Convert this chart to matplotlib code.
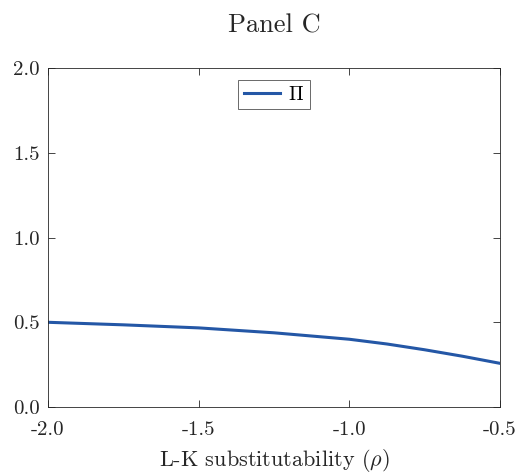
import numpy as np
import matplotlib
matplotlib.use("Agg")
import matplotlib.pyplot as plt

plt.rcParams['font.family'] = 'serif'
plt.rcParams['font.serif'] = ['cmr10']
plt.rcParams['mathtext.fontset'] = 'cm'
plt.rcParams['axes.unicode_minus'] = False

rho = [-2.0, -1.75, -1.5, -1.25, -1.0, -0.875, -0.75, -0.625, -0.5]
pi_vals = [0.500, 0.485, 0.467, 0.438, 0.400, 0.372, 0.338, 0.300, 0.258]

xticks = [-2.0, -1.5, -1.0, -0.5]
xtick_labels = ["-2.0", "-1.5", "-1.0", "-0.5"]
yticks = [0.0, 0.5, 1.0, 1.5, 2.0]
ytick_labels = ["0.0", "0.5", "1.0", "1.5", "2.0"]

fig = plt.figure(figsize=(5.19, 4.73), dpi=100)
ax = fig.add_axes([0.0925, 0.1395, 0.8705, 0.7165])

ax.plot(rho, pi_vals, color='#2457a6', linewidth=2.2, label=r'$\Pi$')

ax.set_xlim(-2.0, -0.5)
ax.set_ylim(0, 2)
ax.set_xticks(xticks)
ax.set_xticklabels(xtick_labels)
ax.set_yticks(yticks)
ax.set_yticklabels(ytick_labels)
ax.tick_params(direction='in', top=True, right=True, labelsize=15,
               colors='#262626', length=5, width=0.6)
ax.tick_params(axis='x', pad=10)
ax.tick_params(axis='y', pad=6)
for s in ax.spines.values():
    s.set_color('#262626')
    s.set_linewidth(0.6)

ax.set_xlabel(r'L-K substitutability ($\rho$)', fontsize=16, color='#262626',
              labelpad=6)
ax.set_title('Panel C', fontsize=19, pad=26, color='#262626')

leg = ax.legend(loc='upper center', fontsize=14, fancybox=False,
                handlelength=1.9, borderpad=0.3, handletextpad=0.4,
                borderaxespad=0.6)
leg.get_frame().set_edgecolor('#262626')
leg.get_frame().set_linewidth(0.6)

fig.savefig('out.png', dpi=100)
